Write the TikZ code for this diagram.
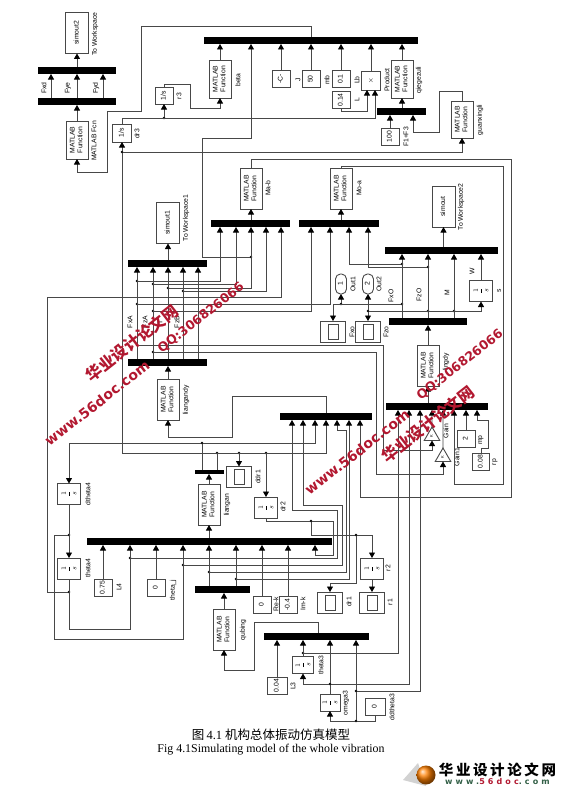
\documentclass[tikz,border=0pt]{standalone}
\usepackage{fontspec}
\setmainfont{Liberation Sans}
\newfontfamily\cjkfont{Noto Sans CJK SC}
\newfontfamily\capfont{Liberation Serif}
\newfontfamily\markfont{DejaVu Sans}
\usetikzlibrary{arrows.meta,shapes.geometric}
\definecolor{wirecol}{RGB}{72,72,72}
\definecolor{markred}{RGB}{178,24,48}
\definecolor{logogreen}{RGB}{50,95,70}
\newcommand{\vtxt}[1]{\rotatebox{90}{\begin{tabular}{@{}c@{}}#1\end{tabular}}}
\newcommand{\ifrac}{\vtxt{\fontsize{7.5}{8}\selectfont$\displaystyle\frac{1}{s}$}}
\begin{document}
\begin{tikzpicture}[x=1pt, y=-1pt,
      simfont/.style={font=\fontsize{6.8}{7.8}\selectfont},
      box/.style={rectangle, draw=wirecol, fill=white, line width=.9pt,
                  inner sep=0pt, outer sep=0pt, simfont},
      fcnbox/.style={box, minimum width=22pt, minimum height=41pt},
      sinkbox/.style={box, minimum width=23pt, minimum height=41pt},
      intbox/.style={box, minimum width=23pt, minimum height=21pt},
      slimbox/.style={box, minimum width=20pt, minimum height=17pt},
      constbox/.style={box, minimum width=18pt, minimum height=17pt},
      scopebox/.style={box, minimum width=25pt, minimum height=21pt},
      screenbox/.style={box, minimum width=10pt, minimum height=15pt},
      outport/.style={box, rounded corners=5pt, minimum width=11pt, minimum height=20pt},
      gainbox/.style={regular polygon, regular polygon sides=3, draw=wirecol, fill=white,
                  line width=.9pt, inner sep=0pt, outer sep=0pt, minimum size=18pt,
                  font=\fontsize{4}{4}\selectfont},
      bar/.style={rectangle, fill=black, inner sep=0pt, outer sep=0pt,
                  minimum height=7pt, minimum width=#1},
      thinbar/.style={bar=#1, minimum height=4pt},
      tag/.style={rotate=90, inner sep=0pt, simfont},
      dot/.style={circle, fill=black, inner sep=0pt, outer sep=0pt, minimum size=2.6pt},
      wire/.style={draw=wirecol, line width=.9pt},
      sig/.style={wire, -{Triangle[length=5.5pt,width=6pt,color=black]}},
      wmark/.style={rotate=38, text=markred, inner sep=0pt}]
    \useasboundingbox (0,0) rectangle (567,792);

    \node[sinkbox] (simoutc) at (77,33) {\vtxt{simout2}};
    \node[tag] (simoutct) at (95,34) {To Workspace};
    \node[bar=78pt] (fbus) at (77,70.5) {};
    \node[bar=78pt] (fdem) at (77,101.5) {};
    \node[fcnbox, minimum height=38pt] (mfcn) at (77,140) {\vtxt{MATLAB\\Function}};
    \node[tag] (mfcnt) at (94,141) {MATLAB Fcn};
    \node[tag] (fxdt) at (44,88) {Fxd};
    \node[tag] (fyet) at (68,88) {Fye};
    \node[tag] (fydt) at (96,88) {Fyd};

    \node[bar=214pt] (topbus) at (311,40.5) {};
    \node[fcnbox, minimum height=38pt] (beta) at (220,79) {\vtxt{MATLAB\\Function}};
    \node[tag] (betat) at (238,80) {beta};
    \node[constbox] (jconst) at (281,79) {\vtxt{-C-}};
    \node[tag] (jt) at (298,80) {J};
    \node[constbox] (mbconst) at (311,79) {\vtxt{50}};
    \node[tag] (mbt) at (327,80) {mb};
    \node[constbox] (lbconst) at (341,79) {\vtxt{0.1}};
    \node[tag] (lbt) at (357,80) {Lb};
    \node[box, minimum width=19pt, minimum height=19pt] (prod) at (371,80.5) {$\times$};
    \node[tag] (prodt) at (387,80) {Product};
    \node[constbox] (lconst) at (341,100) {\vtxt{0.14}};
    \node[tag] (lt) at (357,100) {L};
    \node[fcnbox, minimum height=38pt] (qiege) at (402,79) {\vtxt{MATLAB\\Function}};
    \node[tag] (qieget) at (419,80) {qiegezuli};
    \node[bar=49pt] (fbar) at (401.5,111.5) {};
    \node[constbox] (fconst) at (390,136.5) {\vtxt{100}};
    \node[tag] (ft) at (406,137) {F1+F3};
    \node[fcnbox, minimum height=37pt] (guan) at (462,119.5) {\vtxt{MATLAB\\Function}};
    \node[tag] (guant) at (480,120) {guanxingli};

    \node[box, minimum width=18pt, minimum height=17pt] (rthree) at (164,95.5) {\vtxt{1/s}};
    \node[tag] (rthreet) at (179,96) {r3};
    \node[box, minimum width=19pt, minimum height=18pt] (drthree) at (122,133) {\vtxt{1/s}};
    \node[tag] (drthreet) at (137,134) {dr3};

    \node[fcnbox] (mab) at (251,188.5) {\vtxt{MATLAB\\Function}};
    \node[tag] (mabt) at (268,188) {Ma-b};
    \node[bar=79pt] (mabus) at (250.5,223.5) {};
    \node[fcnbox] (moa) at (341,188.5) {\vtxt{MATLAB\\Function}};
    \node[tag] (moat) at (359,188) {Mo-a};
    \node[bar=80pt] (mobus) at (339,223.5) {};

    \node[sinkbox] (simouta) at (168,223) {\vtxt{simout1}};
    \node[tag] (simoutat) at (186,218) {To Workspace1};
    \node[bar=79pt] (fsum) at (167.5,263.5) {};
    \node[bar=79pt] (fsplit) at (167.5,362.5) {};
    \node[fcnbox] (liangdy) at (168,399.5) {\vtxt{MATLAB\\Function}};
    \node[tag] (liangdyt) at (186,400) {liangandy};
    \node[tag] (fxat) at (130,322) {FxA};
    \node[tag] (fzat) at (145,322) {FzA};
    \node[tag] (tat) at (160,322) {T};
    \node[tag] (fzbt) at (177,322) {FzB};

    \node[sinkbox] (simoutb) at (443.5,206.5) {\vtxt{simout}};
    \node[tag] (simoutbt) at (461,207) {To Workspace2};
    \node[bar=113pt] (rsum) at (441.5,250.5) {};
    \node[bar=78pt] (rsplit) at (428,321.5) {};
    \node[fcnbox] (lingdy) at (428,365.5) {\vtxt{MATLAB\\Function}};
    \node[tag] (lingdyt) at (446,362) {lingdy};
    \node[outport] (outa) at (341,284) {\vtxt{1}};
    \node[tag] (outat) at (353,284) {Out1};
    \node[outport] (outb) at (368,284) {\vtxt{2}};
    \node[tag] (outbt) at (379,284) {Out2};
    \node[scopebox] (fxo) at (333,331.5) {};
    \node[screenbox] (fxoin) at (333,331.5) {};
    \node[tag] (fxot) at (352,332) {Fxo};
    \node[scopebox] (fzo) at (368,331.5) {};
    \node[screenbox] (fzoin) at (368,331.5) {};
    \node[tag] (fzot) at (386,332) {Fzo};
    \node[tag] (fxOt) at (391,296) {FxO};
    \node[tag] (fzOt) at (419,295) {FzO};
    \node[tag] (mt) at (447,293) {M};
    \node[tag] (wt) at (472,271) {W};
    \node[intbox] (sint) at (481,291) {\ifrac};
    \node[tag] (sintt) at (499,291) {s};

    \node[bar=102pt] (rbus) at (437,406.5) {};
    \node[gainbox] (gaina) at (432,436) {\vtxt{K}};
    \node[tag] (gainat) at (446,431) {Gain};
    \node[gainbox] (gainb) at (443,457) {\vtxt{K}};
    \node[tag] (gainbt) at (457,457) {Gain1};
    \node[constbox] (mp) at (466,438.5) {\vtxt{2}};
    \node[tag] (mpt) at (481,440) {mp};
    \node[box, minimum width=17pt, minimum height=17pt] (rp) at (481,461.5) {\vtxt{0.08}};
    \node[tag] (rpt) at (495,462) {rp};

    \node[bar=92pt] (midbus) at (326,416.5) {};
    \node[thinbar=29pt] (lgbus) at (209.5,472) {};
    \node[fcnbox] (liangan) at (209,504.5) {\vtxt{MATLAB\\Function}};
    \node[tag] (lianganat) at (227,505) {liangan};
    \node[scopebox] (ddr) at (239,477) {};
    \node[screenbox] (ddrin) at (239,477) {};
    \node[tag] (ddrt) at (258,477) {ddr1};
    \node[intbox] (drb) at (266,507.5) {\ifrac};
    \node[tag] (drbt) at (283,507) {dr2};
    \node[intbox] (rb) at (372,568.5) {\ifrac};
    \node[tag] (rbt) at (388,568) {r2};
    \node[scopebox] (dra) at (330,602.5) {};
    \node[screenbox] (drain) at (330,602.5) {};
    \node[tag] (drat) at (349,602) {dr1};
    \node[scopebox] (ra) at (372,602.5) {};
    \node[screenbox] (rain) at (372,602.5) {};
    \node[tag] (rat) at (390,602) {r1};

    \node[intbox] (dth) at (69,494) {\ifrac};
    \node[tag] (dtht) at (88,494) {dtheta4};
    \node[intbox] (th) at (69,568.5) {\ifrac};
    \node[tag] (tht) at (88,568) {theta4};
    \node[bar=245pt] (angbus) at (209.5,541.5) {};
    \node[constbox] (lfour) at (103,587.5) {\vtxt{0.75}};
    \node[tag] (lfourt) at (119,587) {L4};
    \node[constbox] (thj) at (156,587.5) {\vtxt{0}};
    \node[tag] (thjt) at (173,590) {theta\_j};
    \node[bar=55pt] (qubus) at (222.5,589.5) {};
    \node[fcnbox] (qubing) at (224,629.5) {\vtxt{MATLAB\\Function}};
    \node[tag] (qubingt) at (243,630) {qubing};
    \node[constbox] (rek) at (262,604.5) {\vtxt{0}};
    \node[tag] (rekt) at (276,604) {Re-k};
    \node[constbox] (imk) at (288,604.5) {\vtxt{-0.4}};
    \node[tag] (imkt) at (303,604) {Im-k};

    \node[bar=105pt] (lowbus) at (316.5,636.5) {};
    \node[constbox, minimum width=20pt] (lthree) at (277,685.5) {\vtxt{0.04}};
    \node[tag] (lthreet) at (293,686) {L3};
    \node[slimbox, minimum width=21pt] (thc) at (303,665) {\ifrac};
    \node[tag] (thct) at (321,665) {theta3};
    \node[slimbox] (omc) at (330,702.5) {\ifrac};
    \node[tag] (omct) at (346,703) {omega3};
    \node[slimbox] (ddth) at (375,706.5) {\vtxt{0}};
    \node[tag] (ddtht) at (392,707) {ddtheta3};

    \node[dot] (jrb) at (164,118) {};
    \node[dot] (jdrc) at (122,152) {};
    \node[dot] (jmb) at (251,257) {};
    \node[dot] (jfa) at (137,281) {};
    \node[dot] (jfb) at (153,284) {};
    \node[dot] (jfc) at (168,288) {};
    \node[dot] (jfd) at (183,291) {};
    \node[dot] (jfe) at (137,304) {};
    \node[dot] (jff) at (153,311) {};
    \node[dot] (jfg) at (137,345) {};
    \node[dot] (jfh) at (153,352) {};
    \node[dot] (jra) at (402,264) {};
    \node[dot] (jrb2) at (428,267) {};
    \node[dot] (jrc) at (402,304) {};
    \node[dot] (jrd) at (428,311) {};
    \node[dot] (jre) at (454,311) {};
    \node[dot] (jrf) at (368,311) {};
    \node[dot] (jrg) at (341,304) {};
    \node[dot] (jlga) at (202,443) {};
    \node[dot] (jlgb) at (217,453) {};
    \node[dot] (jddr) at (239,453) {};
    \node[dot] (jdrb) at (266,453) {};
    \node[dot] (jdro) at (311,521) {};
    \node[dot] (jdrp) at (356,535) {};
    \node[dot] (jtha) at (69,535) {};
    \node[dot] (jthb) at (69,592) {};
    \node[dot] (jang) at (130,558) {};
    \node[dot] (jomg) at (183,565) {};
    \node[dot] (jqua) at (209,572) {};
    \node[dot] (jqub) at (236,579) {};
    \node[dot] (jtc) at (303,653) {};
    \node[dot] (joc) at (330,684) {};
    \node[dot] (jdc) at (356,691) {};
    \node[dot] (jdd) at (356,721) {};

    \draw[sig] (fbus.north) -- (simoutc.south);
    \draw[sig] (51,0 |- fdem.north) -- (51,0 |- fbus.south);
    \draw[sig] (77,0 |- fdem.north) -- (77,0 |- fbus.south);
    \draw[sig] (103,0 |- fdem.north) -- (103,0 |- fbus.south);
    \draw[sig] (mfcn.north) -- (mfcn.north |- fdem.south);
    \draw[sig] (311,0 |- topbus.north) |- (141,26) |- (107,111) |- (77,172) -- (mfcn.south);

    \draw[sig] (beta.north) -- (beta.north |- topbus.south);
    \draw[sig] (jconst.north) -- (jconst.north |- topbus.south);
    \draw[sig] (mbconst.north) -- (mbconst.north |- topbus.south);
    \draw[sig] (lbconst.north) -- (lbconst.north |- topbus.south);
    \draw[sig] (prod.north) -- (prod.north |- topbus.south);
    \draw[sig] (qiege.north) -- (qiege.north |- topbus.south);
    \draw[sig] (qiege.south |- fbar.north) -- (qiege.south);
    \draw[sig] (fconst.north) -- (fconst.north |- fbar.south);
    \draw[sig] (guan.north) |- (439,91) |- (413,132) -- (413,0 |- fbar.south);
    \draw[sig] (lconst.south) |- (367,111) -- (367,0 |- prod.south);
    \draw[sig] (drthree.north) |- (375,118) -- (375,0 |- prod.south);
    \draw[sig] (jrb) -- (rthree.south);
    \draw[sig] (rthree.north) |- (190,84) |- (220,108) -- (beta.south);
    \draw[sig] (jdrc) -- (drthree.south);
    \draw[sig] (jdrc) -| (guan.south);
    \draw[sig] (jdrc) |- (326,453) -- (326,0 |- midbus.south);
    \draw[sig] (jmb) -| (202,138) -| (251,0 |- topbus.south);

    \draw[sig] (mab.south |- mabus.north) -- (mab.south);
    \draw[sig] (moa.south |- mobus.north) -- (moa.south);
    \draw[sig] (mab.north) |- (511,159) |- (360,497) -- (360,0 |- midbus.south);
    \draw[sig] (moa.north) |- (503,166) |- (454,484) -- (454,0 |- rbus.south);

    \draw[sig] (168,0 |- fsum.north) -- (simouta.south);
    \draw[sig] (137,0 |- fsplit.north) -- (137,0 |- fsum.south);
    \draw[sig] (153,0 |- fsplit.north) -- (153,0 |- fsum.south);
    \draw[sig] (168,0 |- fsplit.north) -- (168,0 |- fsum.south);
    \draw[sig] (183,0 |- fsplit.north) -- (183,0 |- fsum.south);
    \draw[sig] (198,0 |- fsplit.north) -- (198,0 |- fsum.south);
    \draw[sig] (liangdy.north) -- (liangdy.north |- fsplit.south);
    \draw[sig] (jfa) -| (220,0 |- mabus.south);
    \draw[sig] (jfb) -| (236,0 |- mabus.south);
    \draw[sig] (jfc) -| (251,0 |- mabus.south);
    \draw[sig] (jfd) -| (266,0 |- mabus.south);
    \draw[sig] (jfe) -| (330,0 |- mobus.south);
    \draw[sig] (jff) -| (311,0 |- mobus.south);
    \draw[sig] (jfg) -| (383,450) -| (gaina.south);
    \draw[sig] (jfh) -| (376,474) -| (gainb.south);
    \draw[sig] (jthb) -| (47,297) -| (281,0 |- mabus.south);

    \draw[sig] (443.5,0 |- rsum.north) -- (simoutb.south);
    \draw[sig] (402,0 |- rsplit.north) -- (402,0 |- rsum.south);
    \draw[sig] (428,0 |- rsplit.north) -- (428,0 |- rsum.south);
    \draw[sig] (454,0 |- rsplit.north) -- (454,0 |- rsum.south);
    \draw[sig] (lingdy.north) -- (lingdy.north |- rsplit.south);
    \draw[sig] (lingdy.south |- rbus.north) -- (lingdy.south);
    \draw[sig] (jra) -| (349,0 |- mobus.south);
    \draw[sig] (jrb2) -| (368,0 |- mobus.south);
    \draw[sig] (jrc) -| (fxo.north);
    \draw[sig] (jrg) -- (outa.south);
    \draw[sig] (jrf) -- (outb.south);
    \draw[sig] (jrf) -- (fzo.north);
    \draw[sig] (jrf) -| (sint.south);
    \draw[sig] (sint.north) -- (sint.north |- rsum.south);

    \draw[sig] (gaina.north) -- (432,0 |- rbus.south);
    \draw[sig] (gainb.north) -- (443,0 |- rbus.south);
    \draw[sig] (mp.north) -- (mp.north |- rbus.south);
    \draw[sig] (rp.north) |- (488,448) |- (477,420) -- (477,0 |- rbus.south);

    \draw[sig] (326,0 |- midbus.north) |- (232,396) |- (168,437) -- (liangdy.south);
    \draw[sig] (jang) -| (337,510) -| (292,0 |- midbus.south);
    \draw[sig] (jomg) -| (342,505) -| (303,0 |- midbus.south);
    \draw[sig] (jqua) -| (346,430) -| (337,0 |- midbus.south);
    \draw[sig] (jqub) -| (349,0 |- midbus.south);
    \draw[sig] (jlga) -| (315,0 |- midbus.south);
    \draw[sig] (jlga) -| (dth.north);
    \draw[wire] (jlga) -- (202,0 |- lgbus.north);
    \draw[wire] (jlgb) -- (217,0 |- lgbus.north);
    \draw[sig] (liangan.north) -- (liangan.north |- lgbus.south);
    \draw[sig] (liangan.south |- angbus.north) -- (liangan.south);
    \draw[sig] (jddr) -- (ddr.north);
    \draw[sig] (jdrb) -- (drb.north);
    \draw[wire] (drb.south) |- (jdro);
    \draw[sig] (jdro) -| (333,555) -| (315,0 |- angbus.south);
    \draw[wire] (jdro) |- (jdrp);
    \draw[sig] (jdrp) -| (rb.north);
    \draw[sig] (jdrp) |- (330,583) -- (dra.north);
    \draw[sig] (rb.south) -- (ra.north);

    \draw[sig] (dth.south) -- (th.north);
    \draw[sig] (jtha) -| (54,639) -| (183,0 |- angbus.south);
    \draw[sig] (th.south) |- (130,629) -- (130,0 |- angbus.south);
    \draw[sig] (lfour.north) -- (lfour.north |- angbus.south);
    \draw[sig] (thj.north) -- (thj.north |- angbus.south);
    \draw[sig] (209,0 |- qubus.north) -- (209,0 |- angbus.south);
    \draw[sig] (236,0 |- qubus.north) -- (236,0 |- angbus.south);
    \draw[sig] (rek.north) -- (rek.north |- angbus.south);
    \draw[sig] (imk.north) -- (imk.north |- angbus.south);
    \draw[sig] (qubing.north) -- (qubing.north |- qubus.south);
    \draw[sig] (318,0 |- lowbus.north) |- (254,622) |- (224,670) -- (qubing.south);

    \draw[sig] (lthree.north) -- (lthree.north |- lowbus.south);
    \draw[sig] (thc.north) -- (thc.north |- lowbus.south);
    \draw[sig] (joc) -- (330,0 |- lowbus.south);
    \draw[sig] (jdc) -- (356,0 |- lowbus.south);
    \draw[sig] (jtc) -| (398,0 |- rbus.south);
    \draw[sig] (joc) -| (409,0 |- rbus.south);
    \draw[sig] (jdc) -| (420,0 |- rbus.south);
    \draw[sig] (joc) -| (thc.south);
    \draw[wire] (joc) -- (omc.north);
    \draw[wire] (jdc) -- (jdd);
    \draw[sig] (jdd) -| (omc.south);
    \draw[wire] (jdd) -| (ddth.south);

    \node[wmark, font=\cjkfont\bfseries\fontsize{16}{16}\selectfont] (marka) at (132,343) {华业设计论文网};
    \node[wmark, font=\markfont\bfseries\fontsize{14}{16}\selectfont] (markb) at (97,403) {www.56doc.com};
    \node[wmark, font=\markfont\bfseries\fontsize{12.6}{14}\selectfont] (markc) at (201,318) {QQ:306826066};
    \node[wmark, font=\cjkfont\bfseries\fontsize{16}{16}\selectfont] (markd) at (428,424) {华业设计论文网};
    \node[wmark, font=\markfont\bfseries\fontsize{14}{16}\selectfont] (marke) at (357,452) {www.56doc.com};
    \node[wmark, font=\markfont\bfseries\fontsize{12.6}{14}\selectfont] (markf) at (460,365) {QQ:306826066};

    \node[inner sep=0pt, font=\fontsize{12.5}{14}\selectfont] (capa) at (271,735) {\cjkfont 图\,{\capfont 4.1}\ 机构总体振动仿真模型};
    \node[inner sep=0pt, font=\capfont\fontsize{11.9}{13}\selectfont] (capb) at (271,750) {Fig 4.1Simulating model of the whole vibration};

    \fill[gray!35] (403,780) -- (418,763) -- (426,786) -- cycle;
    \shade[ball color=orange] (426,775) circle (9.5);
    \node[inner sep=0pt, font=\cjkfont\bfseries\fontsize{14.5}{16}\selectfont\addfontfeature{LetterSpace=18}] (logoa) at (497.5,770) {华业设计论文网};
    \node[inner sep=0pt, font=\markfont\bfseries\fontsize{8}{9}\selectfont\addfontfeature{LetterSpace=39}, text=logogreen] (logob) at (497.5,782) {www.\textcolor{markred}{56doc}.com};
\end{tikzpicture}
\end{document}
